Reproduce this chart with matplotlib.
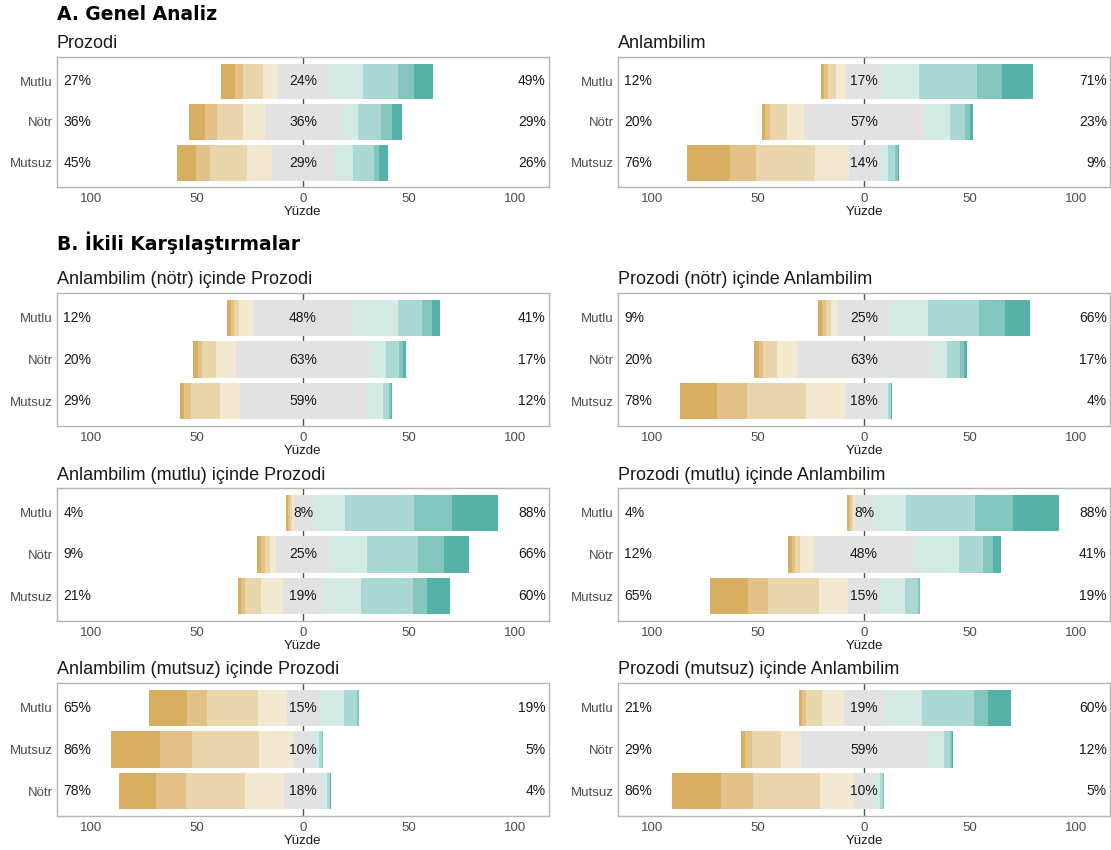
import numpy as np
import matplotlib
matplotlib.use("Agg")
import matplotlib.pyplot as plt

W, H, DPI = 1111, 850, 100

# Response levels: four negative, neutral, four positive
level_colors = ["#D8AE60", "#E2C289", "#EAD6AC", "#F3E8D0", "#E2E2E2",
                "#D4EAE7", "#AAD8D2", "#82C6BD", "#56B1A6"]

row_labels = ["Mutlu", "Nötr", "Mutsuz"]
row_labels_alt = ["Mutlu", "Mutsuz", "Nötr"]

# A. overall ratings (percent per level)
prozodi_mutlu = [6.7, 3.5, 9.6, 6.9, 23.8, 16.2, 16.5, 7.9, 8.7]
prozodi_notr = [7.8, 5.5, 12.3, 10.3, 35.8, 8.2, 10.8, 4.9, 4.7]
prozodi_mutsuz = [9.3, 6.7, 17.4, 11.8, 28.9, 9.3, 9.6, 2.5, 4.2]
anlam_mutlu = [1.5, 1.8, 3.8, 4.8, 17.1, 17.5, 27.0, 12.2, 14.4]
anlam_notr = [1.5, 2.3, 8.0, 8.0, 56.9, 12.2, 7.0, 2.2, 1.7]
anlam_mutsuz = [20.0, 12.7, 27.6, 16.0, 14.2, 4.4, 3.3, 1.0, 0.5]

# B. prosody x semantics combinations (percent per level)
p_mutlu_a_mutlu = [1.0, 0.8, 0.8, 1.2, 8.2, 15.8, 32.3, 18.0, 21.8]
p_mutlu_a_notr = [1.6, 1.4, 2.6, 6.3, 47.6, 21.2, 11.3, 4.5, 3.8]
p_mutlu_a_mutsuz = [18.0, 9.4, 24.0, 13.8, 15.0, 11.8, 6.0, 1.0, 0.3]
p_notr_a_mutlu = [1.6, 1.8, 2.5, 3.1, 25.0, 17.5, 24.3, 12.0, 12.1]
p_notr_a_notr = [2.0, 2.0, 6.5, 9.7, 62.9, 7.7, 6.2, 2.0, 1.0]
p_notr_a_mutsuz = [17.3, 14.3, 28.1, 18.1, 18.1, 2.4, 1.2, 0.3, 0.2]
p_mutsuz_a_mutlu = [1.4, 2.0, 7.3, 10.3, 19.2, 17.8, 24.5, 6.8, 10.6]
p_mutsuz_a_notr = [2.2, 3.0, 14.0, 9.5, 59.0, 8.0, 3.0, 1.0, 0.3]
p_mutsuz_a_mutsuz = [23.1, 15.3, 31.7, 15.7, 9.8, 2.6, 1.4, 0.4, 0.2]

x_ticks = [-100, -50, 0, 50, 100]
x_tick_labels = ["100", "50", "0", "50", "100"]

panels = [
    # (row, col, title, labels, rows)
    (0, 0, "Prozodi", row_labels, [prozodi_mutlu, prozodi_notr, prozodi_mutsuz]),
    (0, 1, "Anlambilim", row_labels, [anlam_mutlu, anlam_notr, anlam_mutsuz]),
    (1, 0, "Anlambilim (nötr) içinde Prozodi", row_labels,
     [p_mutlu_a_notr, p_notr_a_notr, p_mutsuz_a_notr]),
    (1, 1, "Prozodi (nötr) içinde Anlambilim", row_labels,
     [p_notr_a_mutlu, p_notr_a_notr, p_notr_a_mutsuz]),
    (2, 0, "Anlambilim (mutlu) içinde Prozodi", row_labels,
     [p_mutlu_a_mutlu, p_notr_a_mutlu, p_mutsuz_a_mutlu]),
    (2, 1, "Prozodi (mutlu) içinde Anlambilim", row_labels,
     [p_mutlu_a_mutlu, p_mutlu_a_notr, p_mutlu_a_mutsuz]),
    (3, 0, "Anlambilim (mutsuz) içinde Prozodi", row_labels_alt,
     [p_mutlu_a_mutsuz, p_mutsuz_a_mutsuz, p_notr_a_mutsuz]),
    (3, 1, "Prozodi (mutsuz) içinde Anlambilim", row_labels,
     [p_mutsuz_a_mutlu, p_mutsuz_a_notr, p_mutsuz_a_mutsuz]),
]

SANS = ["Liberation Sans", "DejaVu Sans"]
plt.rcParams["font.family"] = SANS

fig = plt.figure(figsize=(W / DPI, H / DPI), dpi=DPI)

# panel boxes in pixels
col_left = [57, 618]
box_w = 492
row_top = [57, 293, 488, 683]
row_h = [130, 133, 133, 133]
XLIM = 116


def fx(px):
    return px / W


def fy(py):
    return 1 - py / H


def pct(v):
    return f"{int(np.floor(v + 0.5))}%"


fig.text(fx(57), fy(15), "A. Genel Analiz", fontsize=13.5, fontweight="bold",
         family="DejaVu Sans", va="center", ha="left")
fig.text(fx(57), fy(243), "B. İkili Karşılaştırmalar", fontsize=13.5,
         fontweight="bold", family="DejaVu Sans", va="center", ha="left")

for r, c, title, labels, rows in panels:
    x0, y0, bh = col_left[c], row_top[r], row_h[r]
    ax = fig.add_axes([fx(x0), fy(y0 + bh), box_w / W, bh / H])
    ax.set_xlim(-XLIM, XLIM)
    ax.set_ylim(0.4, 3.6)
    ax.axvline(0, color="#555555", lw=1, zorder=0)

    for i, vals in enumerate(rows):
        y = 3 - i
        vals = np.asarray(vals, dtype=float)
        neg, neu, pos = vals[:4], vals[4], vals[5:]
        # neutral straddles zero
        ax.barh(y, neu, left=-neu / 2, height=0.88, color=level_colors[4],
                lw=0, zorder=2)
        # negative levels stacked leftwards, mildest next to neutral
        edge = -neu / 2
        for k in range(3, -1, -1):
            ax.barh(y, neg[k], left=edge - neg[k], height=0.88,
                    color=level_colors[k], lw=0, zorder=2)
            edge -= neg[k]
        # positive levels stacked rightwards
        edge = neu / 2
        for k in range(4):
            ax.barh(y, pos[k], left=edge, height=0.88,
                    color=level_colors[5 + k], lw=0, zorder=2)
            edge += pos[k]
        ax.text(-XLIM + 3, y, pct(neg.sum()), ha="left", va="center",
                fontsize=10, color="#1a1a1a", zorder=3)
        ax.text(0, y, pct(neu), ha="center", va="center", fontsize=10,
                color="#1a1a1a", zorder=3)
        ax.text(XLIM - 1.5, y, pct(pos.sum()), ha="right", va="center",
                fontsize=10, color="#1a1a1a", zorder=3)

    ax.set_yticks([3, 2, 1])
    ax.set_yticklabels(labels, fontsize=9.5, color="#4d4d4d")
    ax.set_xticks(x_ticks)
    ax.set_xticklabels(x_tick_labels, fontsize=9.5, color="#4d4d4d")
    ax.tick_params(length=0, pad=3)
    ax.tick_params(axis="x", pad=4)
    for s in ax.spines.values():
        s.set_color("#b5b5b5")
        s.set_linewidth(1)
    ax.set_xlabel("Yüzde", fontsize=9.5, labelpad=1, color="#1a1a1a")

    fig.text(fx(x0), fy(y0 - 13), title, fontsize=13, va="center", ha="left",
             color="#1a1a1a")

fig.savefig("out.png", dpi=DPI)
